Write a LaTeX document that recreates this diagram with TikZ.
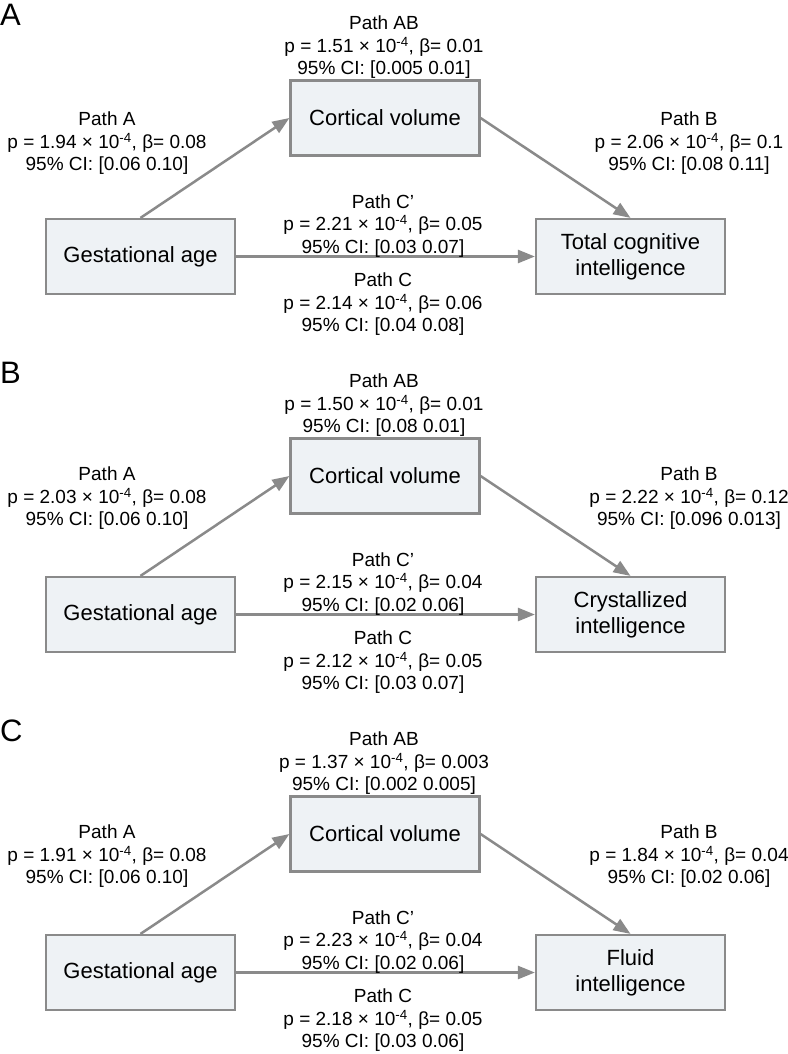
\documentclass[tikz,border=0pt]{standalone}
\usepackage{fontspec}
\setmainfont{Liberation Sans}
\usetikzlibrary{arrows.meta}
\definecolor{boxfill}{HTML}{EEF2F5}
\definecolor{linegray}{HTML}{8A8A8A}
\tikzset{
  vbox/.style={draw=linegray, line width=2.2pt, fill=boxfill, minimum width=189pt, minimum height=75pt, inner sep=0pt, align=center, font=\fontsize{22}{26}\selectfont},
  lbl/.style={align=center, inner sep=0pt, font=\fontsize{19}{22.5}\selectfont},
  conn/.style={draw=linegray, line width=2.5pt, -{Triangle[length=17pt,width=13pt]}},
  letter/.style={anchor=base west, inner sep=0pt, font=\fontsize{31}{31}\selectfont}
}
\newcommand{\sci}[1]{#1 × 10\textsuperscript{-4}}
\begin{document}
\begin{tikzpicture}[x=1pt,y=-1pt]
\useasboundingbox (0,0) rectangle (787,1054);
% ---------- Panel A ----------
\begin{scope}
\node[letter] (LA) at (0,25.5) {A};
\node[vbox] (ga1) at (140.5,256.5) {Gestational age};
\node[vbox] (cv1) at (385,118) {Cortical volume};
\node[vbox] (ti1) at (630.5,256.5) {Total cognitive\\intelligence};
\draw[conn] (ga1.north) -- (cv1.west);
\draw[conn] (cv1.east) -- (ti1.north);
\draw[conn] (ga1.east) -- (ti1.west);
\node[lbl] (ab1) at (384,47.5) {Path AB\\p = \sci{1.51}, β= 0.01\\95\% CI: [0.005 0.01]};
\node[lbl] (pa1) at (107,143.5) {Path A\\p = \sci{1.94}, β= 0.08\\95\% CI: [0.06 0.10]};
\node[lbl] (pb1) at (689,143.5) {Path B\\p = \sci{2.06}, β= 0.1\\95\% CI: [0.08 0.11]};
\node[lbl] (pcp1) at (383,226) {Path C’\\p = \sci{2.21}, β= 0.05\\95\% CI: [0.03 0.07]};
\node[lbl] (pc1) at (383,304.5) {Path C\\p = \sci{2.14}, β= 0.06\\95\% CI: [0.04 0.08]};
\end{scope}
% ---------- Panel B ----------
\begin{scope}[shift={(0,358)}]
\node[letter] (LB) at (0,25.5) {B};
\node[vbox] (ga2) at (140.5,256.5) {Gestational age};
\node[vbox] (cv2) at (385,118) {Cortical volume};
\node[vbox] (ti2) at (630.5,256.5) {Crystallized\\intelligence};
\draw[conn] (ga2.north) -- (cv2.west);
\draw[conn] (cv2.east) -- (ti2.north);
\draw[conn] (ga2.east) -- (ti2.west);
\node[lbl] (ab2) at (384,47.5) {Path AB\\p = \sci{1.50}, β= 0.01\\95\% CI: [0.08 0.01]};
\node[lbl] (pa2) at (107,140.5) {Path A\\p = \sci{2.03}, β= 0.08\\95\% CI: [0.06 0.10]};
\node[lbl] (pb2) at (689,140.5) {Path B\\p = \sci{2.22}, β= 0.12\\95\% CI: [0.096 0.013]};
\node[lbl] (pcp2) at (383,226) {Path C’\\p = \sci{2.15}, β= 0.04\\95\% CI: [0.02 0.06]};
\node[lbl] (pc2) at (383,304.5) {Path C\\p = \sci{2.12}, β= 0.05\\95\% CI: [0.03 0.07]};
\end{scope}
% ---------- Panel C ----------
\begin{scope}[shift={(0,716)}]
\node[letter] (LC) at (0,25.5) {C};
\node[vbox] (ga3) at (140.5,256.5) {Gestational age};
\node[vbox] (cv3) at (385,118) {Cortical volume};
\node[vbox] (ti3) at (630.5,256.5) {Fluid\\intelligence};
\draw[conn] (ga3.north) -- (cv3.west);
\draw[conn] (cv3.east) -- (ti3.north);
\draw[conn] (ga3.east) -- (ti3.west);
\node[lbl] (ab3) at (384,47.5) {Path AB\\p = \sci{1.37}, β= 0.003\\95\% CI: [0.002 0.005]};
\node[lbl] (pa3) at (107,140.5) {Path A\\p = \sci{1.91}, β= 0.08\\95\% CI: [0.06 0.10]};
\node[lbl] (pb3) at (689,140.5) {Path B\\p = \sci{1.84}, β= 0.04\\95\% CI: [0.02 0.06]};
\node[lbl] (pcp3) at (383,226) {Path C’\\p = \sci{2.23}, β= 0.04\\95\% CI: [0.02 0.06]};
\node[lbl] (pc3) at (383,304.5) {Path C\\p = \sci{2.18}, β= 0.05\\95\% CI: [0.03 0.06]};
\end{scope}
\end{tikzpicture}
\end{document}
